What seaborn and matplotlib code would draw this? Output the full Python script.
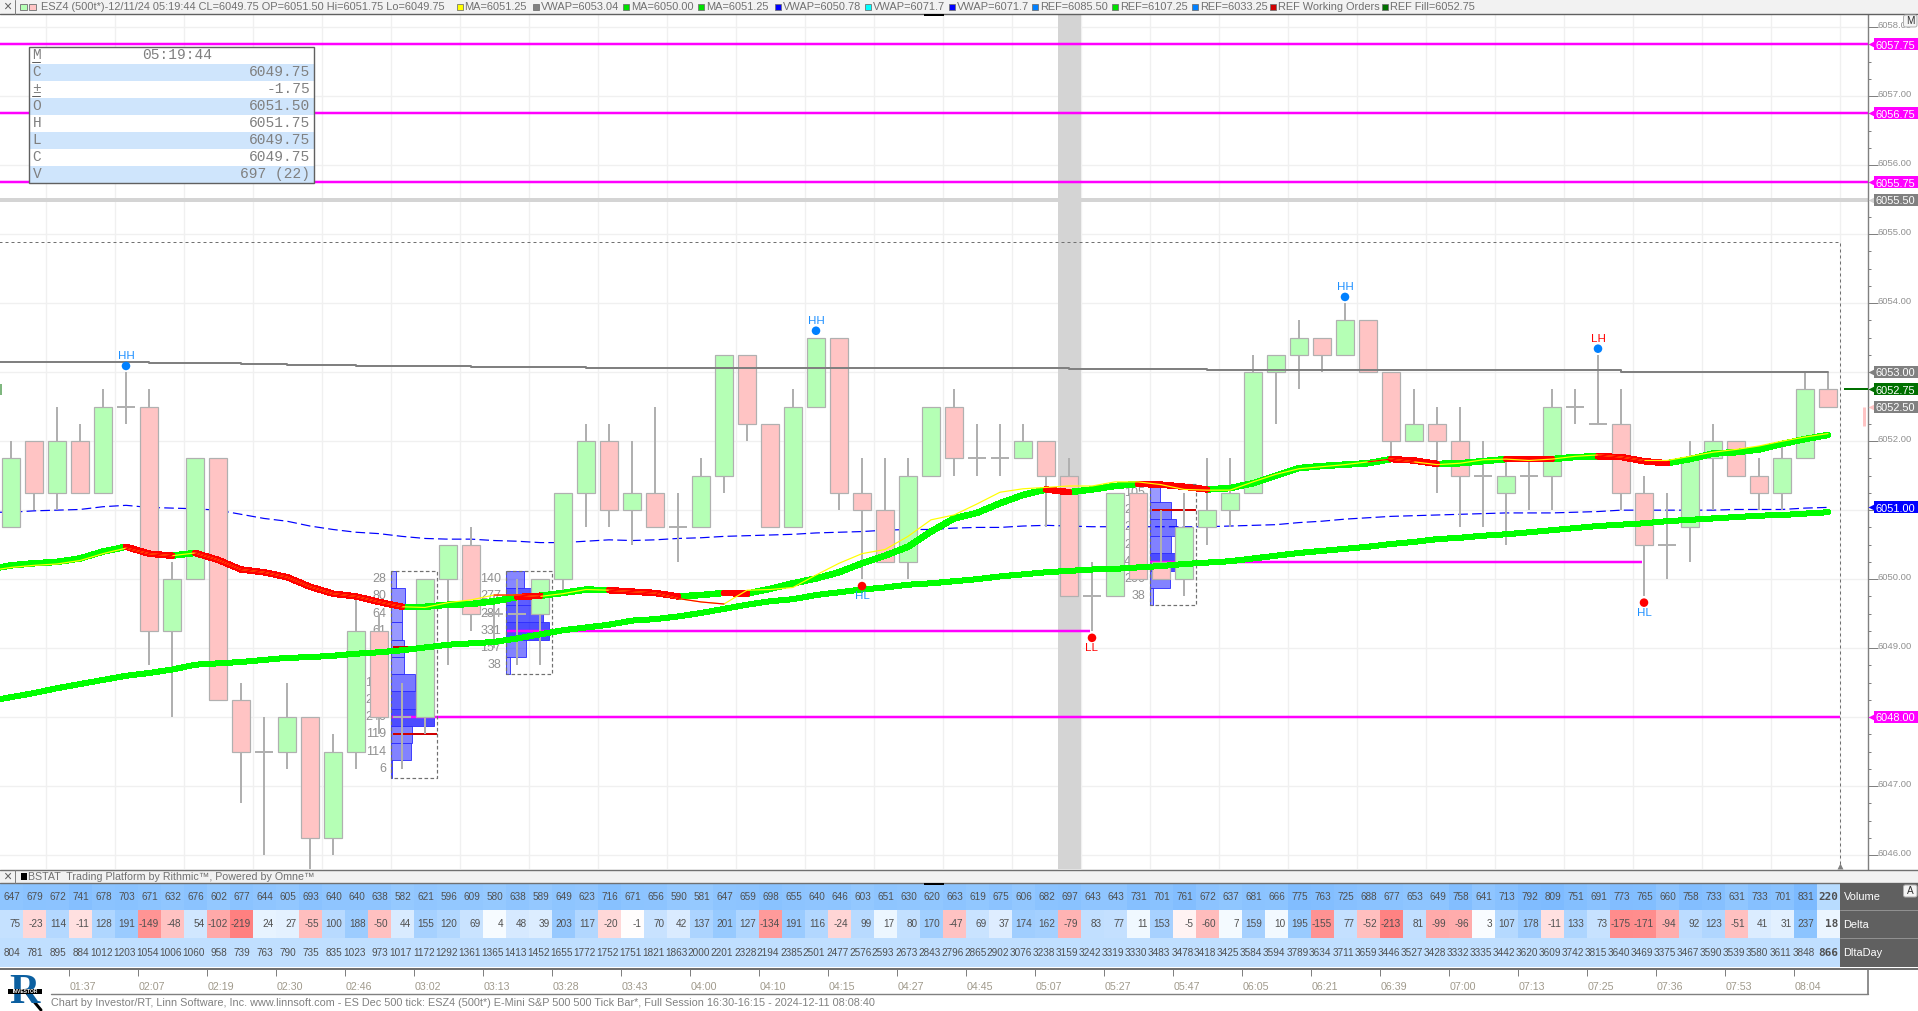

# Recreates the ESZ4 500 tick candle chart with the BSTAT pane under it
import numpy as np
import matplotlib
matplotlib.use("Agg")
import matplotlib.pyplot as plt
from matplotlib.colors import LinearSegmentedColormap
from matplotlib.patches import Rectangle, FancyBboxPatch
from matplotlib.transforms import ScaledTranslation
import seaborn as sns

# ---- data ----
bar_open = [6050.75,6052,6051.25,6052,6051.25,6052.5,6052.5,6049.25,6050,6051.75,
            6048.25,6047.5,6047.5,6048,6046.25,6047.5,6049.25,6048,6048,6050,
            6050.5,6049.5,6049.5,6049.5,6050,6051.25,6052,6051,6051.25,6050.75,
            6050.75,6051.5,6053.25,6052.25,6050.75,6052.5,6053.5,6051.25,6051,6050.25,
            6051.5,6052.5,6051.75,6051.75,6051.75,6052,6051.5,6049.75,6049.75,6051.25,
            6050.25,6050,6050.75,6051,6051.25,6053,6053.25,6053.5,6053.25,6053.75,
            6053,6052,6052.25,6052,6051.5,6051.25,6051.5,6051.5,6052.5,6052.25,
            6052.25,6051.25,6050.5,6050.75,6051.75,6052,6051.5,6051.25,6051.75,6052.75]
bar_high = [6052,6052,6052.5,6052.25,6052.75,6053,6052.75,6050.25,6051.75,6051.75,
            6048.5,6048,6048.5,6048,6047.75,6049.75,6049.5,6048.5,6050,6050.5,
            6050.75,6049.75,6050,6050,6051.25,6052.25,6052.25,6052,6052.5,6051.25,
            6051.75,6053.25,6053.25,6052.25,6052.75,6053.5,6053.5,6051.75,6051.75,6051.75,
            6052.5,6052.75,6052.25,6052.25,6052.25,6052,6051.75,6050.25,6051.25,6051.25,
            6051,6051.25,6051.75,6051.75,6053.25,6053.25,6053.75,6053.5,6054,6053.75,
            6053,6052.75,6052.5,6052.5,6052,6051.75,6051.75,6052.75,6052.75,6053.25,
            6052.75,6051.5,6051.25,6052,6052.25,6052,6051.75,6052,6053,6053]
bar_low = [6050.75,6051,6051,6051.25,6051.25,6052.25,6048.75,6048,6050,6048.25,
           6046.75,6046,6047.25,6045.75,6046,6047.25,6047.75,6047.25,6047.75,6048.75,
           6049.25,6049,6048.75,6048.75,6049.75,6050.75,6050.75,6050.5,6050.75,6050.25,
           6050.75,6051.25,6052,6050.75,6050.75,6052.5,6051,6050,6050.25,6050,
           6051.5,6051.5,6051.5,6051.5,6051.75,6050.75,6049.75,6049.25,6049.75,6050,
           6050,6049.75,6050.5,6050.75,6051.25,6052.25,6052.75,6053,6053.25,6053,
           6051.75,6052,6051.25,6050.75,6050.75,6050.5,6051,6051,6052.25,6052.25,
           6051,6049.75,6050,6050.25,6051,6051.5,6051,6051,6051.75,6052.5]
bar_close = [6051.75,6051.25,6052,6051.25,6052.5,6052.5,6049.25,6050,6051.75,6048.25,
             6047.5,6047.5,6048,6046.25,6047.5,6049.25,6048,6048,6050,6050.5,
             6049.5,6049.5,6049.5,6050,6051.25,6052,6051,6051.25,6050.75,6050.75,
             6051.5,6053.25,6052.25,6050.75,6052.5,6053.5,6051.25,6051,6050.25,6051.5,
             6052.5,6051.75,6051.75,6051.75,6052,6051.5,6049.75,6049.75,6051.25,6050,
             6050,6050.75,6051,6051.25,6053,6053.25,6053.5,6053.25,6053.75,6053,
             6052,6052.25,6052,6051.5,6051.5,6051.5,6051.5,6052.5,6052.5,6052.25,
             6051.25,6050.5,6050.5,6051.75,6052,6051.5,6051.25,6051.75,6052.75,6052.5]

# moving averages start one bar left of the first candle so they run off the edge
ma_fast = [6050.14,6050.2,6050.23,6050.25,6050.3,6050.4,6050.47,6050.37,6050.34,6050.38,6050.28,
           6050.14,6050.1,6050.03,6049.89,6049.79,6049.75,6049.67,6049.6,6049.6,6049.63,
           6049.64,6049.68,6049.74,6049.76,6049.8,6049.85,6049.84,6049.82,6049.8,6049.75,
           6049.77,6049.8,6049.79,6049.86,6049.94,6050.01,6050.1,6050.23,6050.34,6050.47,
           6050.69,6050.88,6050.96,6051.1,6051.22,6051.3,6051.26,6051.3,6051.35,6051.38,
           6051.37,6051.34,6051.3,6051.32,6051.39,6051.5,6051.61,6051.64,6051.66,6051.68,
           6051.74,6051.72,6051.67,6051.68,6051.71,6051.74,6051.74,6051.74,6051.77,6051.78,
           6051.77,6051.71,6051.68,6051.74,6051.82,6051.84,6051.88,6051.96,6052.03,6052.09]
ma_thin = [6050.12,6050.17,6050.2,6050.22,6050.27,6050.37,6050.45,6050.37,6050.34,6050.38,6050.28,
           6050.14,6050.1,6050.03,6049.89,6049.79,6049.75,6049.67,6049.6,6049.59,6049.66,
           6049.7,6049.77,6049.77,6049.75,6049.79,6049.85,6049.84,6049.82,6049.8,6049.72,
           6049.67,6049.64,6049.84,6049.85,6049.88,6050.06,6050.23,6050.37,6050.43,6050.62,
           6050.86,6050.93,6051.09,6051.26,6051.31,6051.33,6051.35,6051.35,6051.41,6051.41,
           6051.37,6051.3,6051.29,6051.29,6051.41,6051.52,6051.6,6051.63,6051.66,6051.7,
           6051.74,6051.7,6051.66,6051.68,6051.73,6051.74,6051.72,6051.74,6051.78,6051.8,
           6051.77,6051.72,6051.72,6051.78,6051.84,6051.88,6051.93,6052,6052.06,6052.11]
ma_slow = [6048.23,6048.29,6048.35,6048.42,6048.48,6048.54,6048.6,6048.64,6048.69,6048.76,6048.78,
           6048.8,6048.83,6048.86,6048.87,6048.89,6048.92,6048.94,6048.97,6049.01,6049.05,
           6049.07,6049.09,6049.14,6049.2,6049.26,6049.3,6049.34,6049.4,6049.42,6049.46,
           6049.51,6049.57,6049.63,6049.68,6049.71,6049.77,6049.81,6049.85,6049.88,6049.92,
           6049.94,6049.97,6050,6050.04,6050.07,6050.1,6050.12,6050.14,6050.15,6050.17,
           6050.19,6050.22,6050.24,6050.26,6050.3,6050.34,6050.38,6050.41,6050.44,6050.47,
           6050.51,6050.54,6050.58,6050.6,6050.63,6050.65,6050.68,6050.71,6050.74,6050.77,
           6050.79,6050.81,6050.84,6050.86,6050.88,6050.9,6050.92,6050.93,6050.95,6050.97]
vwap_blue = [6050.97,6050.97,6050.99,6051,6051.01,6051.05,6051.07,6051.04,6051.03,6051.02,6051,
             6050.94,6050.88,6050.84,6050.77,6050.72,6050.68,6050.66,6050.62,6050.59,6050.58,
             6050.58,6050.56,6050.55,6050.53,6050.53,6050.55,6050.57,6050.56,6050.57,6050.59,
             6050.6,6050.62,6050.63,6050.64,6050.65,6050.67,6050.68,6050.69,6050.71,6050.72,
             6050.72,6050.74,6050.75,6050.75,6050.77,6050.78,6050.77,6050.76,6050.76,6050.76,
             6050.76,6050.76,6050.76,6050.77,6050.78,6050.79,6050.82,6050.84,6050.87,6050.89,
             6050.91,6050.92,6050.93,6050.94,6050.95,6050.96,6050.96,6050.96,6050.97,6050.98,
             6051,6051,6051,6051,6051,6051.01,6051.01,6051.01,6051.03,6051.04]
vwap_grey_bars = [-1,6,10,12,15,20,25,37,46,52,70,79]
vwap_grey = [6053.147,6053.132,6053.12,6053.108,6053.093,6053.078,6053.065,6053.053,6053.039,6053.024,6053.005,6053.005]

ma_red_spans = [(5,7),(8,17),(22,23),(26,29),(31,32),(45,46),(49,52),(60,62),(65,67),(69,72)]
thin_red_spans = [(5,7),(8,17),(21,23),(26,31),(59,61),(69,71)]

# horizontal reference lines: price, first bar, last bar (None = whole width)
ref_prices = [6057.75,6056.75,6055.75,6048.00,6049.25,6050.25]
ref_start = [None,None,None,16.5,21.55,49.5]
ref_end = [None,None,None,79.5,46.9,70.9]

swing_bars = [5,35,58,69,37,47,71]
swing_price = [6053.09,6053.6,6054.09,6053.34,6049.9,6049.15,6049.66]
swing_text = ["HH","HH","HH","LH","HL","LL","HL"]
swing_dot = ["#0080ff","#0080ff","#0080ff","#0080ff","#ff0000","#ff0000","#ff0000"]
swing_label = ["#1e90ff","#1e90ff","#1e90ff","#ff0000","#1e90ff","#ff0000","#1e90ff"]

# volume profiles over two bars
prof1_first = 16.5
prof1_levels = [6050,6049.75,6049.5,6049.25,6049,6048.75,6048.5,6048.25,6048,6047.75,6047.5,6047.25]
prof1_vol = [28,80,64,61,75,75,135,200,240,119,114,6]
prof1_poc = [6049.01,6047.76]
prof2_first = 21.5
prof2_levels = [6050,6049.75,6049.5,6049.25,6049,6048.75]
prof2_vol = [140,277,284,331,157,38]
prof2_poc = []
prof3_first = 49.5
prof3_levels = [6051.25,6051,6050.75,6050.5,6050.25,6050,6049.75]
prof3_vol = [105,215,265,210,430,200,38]
prof3_poc = [6051.0]

stat_volume = [647,679,672,741,678,703,671,632,676,602,677,644,605,693,640,640,638,582,621,596,
               609,580,638,589,649,623,716,671,656,590,581,647,659,698,655,640,646,603,651,630,
               620,663,619,675,606,682,697,643,643,731,701,761,672,637,681,666,775,763,725,688,
               677,653,649,758,641,713,792,809,751,691,773,765,660,758,733,631,733,701,831,220]
stat_delta = [75,-23,114,-11,128,191,-149,-48,54,-102,-219,24,27,-55,100,188,-50,44,155,120,
              69,4,48,39,203,117,-20,-1,70,42,137,201,127,-134,191,116,-24,99,17,80,
              170,-47,69,37,174,162,-79,83,77,11,153,-5,-60,7,159,10,195,-155,77,-52,
              -213,81,-99,-96,3,107,178,-11,133,73,-175,-171,-94,92,123,-51,41,31,237,18]
stat_day = [804,781,895,884,1012,1203,1054,1006,1060,958,739,763,790,735,835,1023,973,1017,1172,1292,
            1361,1365,1413,1452,1655,1772,1752,1751,1821,1863,2000,2201,2328,2194,2385,2501,2477,2576,2593,2673,
            2843,2796,2865,2902,3076,3238,3159,3242,3319,3330,3483,3478,3418,3425,3584,3594,3789,3634,3711,3659,
            3446,3527,3428,3332,3335,3442,3620,3609,3742,3815,3640,3469,3375,3467,3590,3539,3580,3611,3848,866]
stat_names = ["Volume","Delta","DltaDay"]

time_labels = ["01:37","02:07","02:19","02:30","02:46","03:02","03:13","03:28","03:43","04:00","04:10","04:15","04:27",
               "04:45","05:07","05:27","05:47","06:05","06:21","06:39","07:00","07:13","07:25","07:36","07:53","08:04"]

info_keys = ["M","C","±","O","H","L","C","V"]
info_vals = ["05:19:44","6049.75","-1.75","6051.50","6051.75","6049.75","6049.75","697 (22)"]

legend_text = ["ESZ4 (500t*)-12/11/24 05:19:44 CL=6049.75 OP=6051.50 Hi=6051.75 Lo=6049.75","MA=6051.25","VWAP=6053.04",
               "MA=6050.00","MA=6051.25","VWAP=6050.78","VWAP=6071.7","VWAP=6071.7","REF=6085.50","REF=6107.25","REF=6033.25",
               "REF Working Orders","REF Fill=6052.75"]
legend_swatch = [None,"#ffff00","#808080","#00e000","#00e000","#0000ff","#00ffff","#0000ff","#0080ff","#00e000","#0080ff","#d00000","#007000"]
legend_x = [41,464.5,541,631,706,783,872.6,957,1040,1120,1200,1278,1390]

flag_prices = [6057.75,6056.75,6055.75,6055.50,6053.00,6052.75,6052.50,6051.04,6048.00]
flag_text = ["6057.75","6056.75","6055.75","6055.50","6053.00","6052.75","6052.50","6051.00","6048.00"]
flag_color = ["#ff00ff","#ff00ff","#ff00ff","#808080","#808080","#007000","#808080","#0000ff","#ff00ff"]
flag_tip = ["#ff00ff","#ff00ff","#ff00ff","#d0d0d0","#808080","#007000","#ffc4c4","#0000ff","#ff00ff"]

# ---- layout ----
W, H = 1918, 1011
GREEN, PINK, WICK = "#b5ffb5", "#ffc4c4", "#b0b0b0"
PX = 72 / 100  # points in one pixel at dpi 100

sns.set_theme(style="white")
plt.rcParams["font.family"] = ["Liberation Sans", "DejaVu Sans"]

fig = plt.figure(figsize=(W / 100, H / 100), dpi=100, facecolor="white")


def px_axes(x0, y0, x1, y1, **kw):
    return fig.add_axes([x0 / W, 1 - y1 / H, (x1 - x0) / W, (y1 - y0) / H], **kw)


# bar k has its centre at 11 + 23 * k pixels
x_lim = ((0 - 11) / 23, (1868 - 11) / 23)

ax = px_axes(0, 14, 1868, 869)
ax.set_xlim(*x_lim)
ax.set_ylim(6045.80, 6058.19)
ax.set_axisbelow(True)

ax.set_xticks(np.arange(1.54, 80, 3))
ax.tick_params(axis="x", length=0, labelbottom=False)
ax.yaxis.tick_right()
ax.set_yticks(np.arange(6046, 6059, 1.0))
ax.set_yticks(np.arange(6046, 6058.2, 0.25), minor=True)
ax.tick_params(axis="y", which="major", length=10 * PX, width=PX, color="#808080", pad=0,
               labelsize=9.5 * PX, labelcolor="#909090")
ax.tick_params(axis="y", which="minor", length=3 * PX, width=PX, color="#808080", right=True, left=False)
ax.set_yticklabels([f"{v:.2f}" for v in np.arange(6046, 6059, 1.0)])
label_down = ScaledTranslation(0, -2.5 / 100, fig.dpi_scale_trans)
for lab in ax.get_yticklabels():
    lab.set_va("bottom")
    lab.set_transform(lab.get_transform() + label_down)
ax.grid(True, which="major", color="#f0f0f0", linewidth=1.4 * PX)
for side in ["top", "left", "bottom"]:
    ax.spines[side].set_visible(False)
ax.spines["right"].set_color("#808080")
ax.spines["right"].set_linewidth(1.4 * PX)

# grey separators
ax.axvspan(45.5, 46.5, color="#d4d4d4", lw=0, zorder=0.6)
ax.axhline(6055.5, color="#d4d4d4", lw=4 * PX, zorder=0.6)

# session box
ax.plot([-2, 79.5, 79.5], [6054.88, 6054.88, 6045], color="#707070", lw=PX,
        dashes=(3, 3), zorder=1.9)

# reference lines
for p, a, b in zip(ref_prices, ref_start, ref_end):
    a = x_lim[0] if a is None else a
    b = x_lim[1] if b is None else b
    ax.plot([a, b], [p, p], color="#ff00ff", lw=2.5 * PX, solid_capstyle="butt", zorder=1.5)


def draw_profile(first, levels, vol, poc):
    vmax = max(vol)
    for lvl, v in zip(levels, vol):
        ax.barh(lvl, v / vmax * 43.3 / 23, left=first, height=0.25,
                color=(0, 0, 1, 0.3 + 0.4 * v / vmax), edgecolor=(0.2, 0.2, 1, 0.9),
                linewidth=PX, zorder=1)
        ax.text(first - 4.5 / 23, lvl, str(v), ha="right", va="center", color="#909090",
                fontsize=12.5 * PX, zorder=1.4)
    ax.plot([first, first, first + 2, first + 2, first],
            [levels[0] + 0.125, levels[-1] - 0.125, levels[-1] - 0.125, levels[0] + 0.125, levels[0] + 0.125],
            color="#707070", lw=1.2 * PX, dashes=(3, 2), zorder=1.9)
    for p in poc:
        ax.plot([first + 0.1, first + 2], [p, p], color="#d00000", lw=2 * PX, zorder=1.6,
                solid_capstyle="butt")


draw_profile(prof1_first, prof1_levels, prof1_vol, prof1_poc)
draw_profile(prof2_first, prof2_levels, prof2_vol, prof2_poc)
draw_profile(prof3_first, prof3_levels, prof3_vol, prof3_poc)

# blue vwap sits under the candles
line_x = np.arange(-1, 80)
sns.lineplot(x=line_x, y=vwap_blue, ax=ax, color="#0000ff", linewidth=1.2 * PX, errorbar=None, zorder=1.8)
ax.lines[-1].set_linestyle((0, (8, 3.5)))

# candles
bars = np.arange(len(bar_open))
o, h, l, c = map(np.array, (bar_open, bar_high, bar_low, bar_close))
ax.vlines(bars, l, h, color=WICK, linewidth=2 * PX, zorder=2)
body = c != o
ax.bar(bars[body], np.abs(c - o)[body], bottom=np.minimum(o, c)[body], width=0.74,
       color=[GREEN if v else PINK for v in (c > o)[body]], edgecolor=WICK, linewidth=1.2 * PX, zorder=2.1)
ax.hlines(o[~body], bars[~body] - 0.39, bars[~body] + 0.39, color=WICK, linewidth=2 * PX, zorder=2.1)

# averages above the candles
sns.lineplot(x=vwap_grey_bars, y=vwap_grey, ax=ax, color="#808080", linewidth=2 * PX, errorbar=None,
             drawstyle="steps-post", zorder=3)
sns.lineplot(x=line_x, y=ma_slow, ax=ax, color="#00ff00", linewidth=5 * PX, errorbar=None, zorder=4,
             antialiased=False)
sns.lineplot(x=line_x, y=ma_fast, ax=ax, color="#00ff00", linewidth=5.5 * PX, errorbar=None, zorder=4.1,
             antialiased=False)
for a, b in ma_red_spans:
    sns.lineplot(x=line_x[a + 1:b + 2], y=ma_fast[a + 1:b + 2], ax=ax, color="#ff0000", linewidth=5.5 * PX,
                 errorbar=None, zorder=4.2, antialiased=False)
sns.lineplot(x=line_x, y=ma_thin, ax=ax, color="#ffff00", linewidth=1.2 * PX, errorbar=None, zorder=4.3)
for a, b in thin_red_spans:
    sns.lineplot(x=line_x[a + 1:b + 2], y=ma_thin[a + 1:b + 2], ax=ax, color="#ff0000", linewidth=1.2 * PX,
                 errorbar=None, zorder=4.4)

# swing markers
sns.scatterplot(x=swing_bars, y=swing_price, ax=ax, hue=swing_dot, palette={v: v for v in swing_dot},
                s=38, linewidth=0, legend=False, zorder=6)
for k, p, t, cl in zip(swing_bars, swing_price, swing_text, swing_label):
    off = 0.14 if t in ("HH", "LH") else -0.145
    ax.text(k, p + off, t, color=cl, ha="center", va="center", fontsize=11.5 * PX, zorder=6)

# fill marker and arrow near the right edge
ax.plot([79.7, x_lim[1]], [6052.75, 6052.75], color="#007000", lw=2 * PX, zorder=5, solid_capstyle="butt")
ax.plot([80.55, 80.55], [6052.5, 6052.22], color="#ffc4c4", lw=3 * PX, zorder=5, solid_capstyle="butt")
ax.plot([x_lim[0], x_lim[0] + 0.04], [6052.75, 6052.75], color="#007000", lw=11 * PX, zorder=5,
        solid_capstyle="butt")

# price flags on the axis
ytr = ax.get_yaxis_transform()
for p, t, col, tip in zip(flag_prices, flag_text, flag_color, flag_tip):
    ax.plot([1 + 4 / 1868], [p], marker="<", ms=8.5 * PX, color=tip, mec="none", transform=ytr,
            clip_on=False, zorder=8)
    ax.add_patch(Rectangle((1 + 6 / 1868, p - 0.087), 45 / 1868, 0.174, transform=ytr, facecolor=col,
                           edgecolor="none", clip_on=False, zorder=8.5))
    ax.annotate(t, xy=(1, p), xycoords=ytr, xytext=(8 * PX, -1.2 * PX), textcoords="offset points",
                color="white", ha="left", va="center", fontsize=11 * PX, annotation_clip=False, zorder=9)

# ---- stat pane ----
vol_cmap = LinearSegmentedColormap.from_list(
    "vol", [(0, "#b8dcff"), ((580 - 220) / 611, "#95c9ff"), (1, "#7cbaff")])
dn = [-219, -149, -50, -11, 0, 4, 50, 100, 237]
dc = ["#ff8080", "#ff9494", "#ffc0c0", "#ffe0e0", "#ffffff", "#f6fbff", "#d4e8ff", "#b8daff", "#8cc4ff"]
delta_cmap = LinearSegmentedColormap.from_list("delta", [((v + 219) / 456, col) for v, col in zip(dn, dc)])
day_cmap = LinearSegmentedColormap.from_list("day", ["#c0dfff", "#c0dfff"])

rows = [(stat_volume, 883, 910, vol_cmap, 220, 831), (stat_delta, 910, 938, delta_cmap, -219, 237),
        (stat_day, 938, 967, day_cmap, 0, 4000)]
for vals, y0, y1, cmap, vmin, vmax in rows:
    a = px_axes(-0.5, y0, 1839.5, y1)
    sns.heatmap(np.array([vals]), ax=a, cmap=cmap, vmin=vmin, vmax=vmax, cbar=False, annot=True, fmt="d",
                xticklabels=False, yticklabels=False, annot_kws={"fontsize": 10 * PX, "color": "#505050"})
    for t in a.texts:
        t.set_ha("right")
        t.set_x(t.get_position()[0] + 0.41)
    a.texts[-1].set_fontfamily("DejaVu Sans Mono")
    a.texts[-1].set_fontweight("bold")
    a.texts[-1].set_fontsize(11 * PX)
    a.texts[-1].set_x(79.95)

# ---- time axis ----
ax_t = px_axes(0, 969, 1868, 994)
ax_t.set_xlim(*x_lim)
ax_t.set_ylim(25, 0)
ax_t.set_yticks([])
time_ticks = np.arange(2.54, 2.54 + 3 * len(time_labels), 3)
ax_t.set_xticks(time_ticks)
ax_t.set_xticklabels([])
ax_t.xaxis.tick_top()
ax_t.tick_params(axis="x", direction="in", length=7 * PX, width=PX, color="#808080", pad=0)
for tk, lab in zip(time_ticks, time_labels):
    ax_t.text(tk, 18.5, lab, color="#a09a8c", ha="left", va="center", fontsize=10.6 * PX)
for side in ["top", "left", "bottom"]:
    ax_t.spines[side].set_visible(False)
ax_t.spines["right"].set_color("#808080")

# ---- window chrome, drawn in pixels ----
ch = fig.add_axes([0, 0, 1, 1], facecolor="none", zorder=20)
ch.set_xlim(0, W)
ch.set_ylim(H, 0)
ch.axis("off")


def box(x0, y0, x1, y1, fc, ec="none", lw=0, z=1):
    ch.add_patch(Rectangle((x0, y0), x1 - x0, y1 - y0, facecolor=fc, edgecolor=ec, linewidth=lw * PX, zorder=z))


# header
box(0, 0, W, 13.5, "#f2f2f2")
ch.plot([0, W], [13.5, 13.5], color="#606060", lw=1.4 * PX)
ch.plot([14.5, 14.5], [0, 13.5], color="#808080", lw=PX)
ch.text(7, 6.8, "×", color="#606060", ha="center", va="center", fontsize=14 * PX)
box(20, 3.5, 26.5, 10, GREEN, "#808080", 1)
box(29, 3.5, 35.5, 10, PINK, "#808080", 1)
for t, sw, x in zip(legend_text, legend_swatch, legend_x):
    if sw:
        box(x - 8, 3.5, x - 2, 10, sw, "#707070", 0.8)
    ch.text(x, 7, t, color="#707070", ha="left", va="center", fontsize=11 * PX)
box(924, 13.5, 944, 15.5, "black", z=2)

# M button
ch.add_patch(FancyBboxPatch((1904, 15.5), 12.5, 11, boxstyle="round,pad=0.5,rounding_size=2", fc="#f4f4f4",
                            ec="#b0b0b0", lw=PX, zorder=3))
ch.text(1910.2, 21.2, "M", color="#303030", ha="center", va="center", fontsize=10 * PX, zorder=4)

# info box
bx0, bx1, by0, row_h = 28.6, 314, 46.5, 17.05
for i, (key, val) in enumerate(zip(info_keys, info_vals)):
    ty = by0 + row_h * i
    box(bx0, ty, bx1, ty + row_h, "#cfe5fc" if i % 2 else "white", z=3)
    ch.text(32.5, ty + row_h / 2, key, color="#808080", family="Liberation Mono", ha="left", va="center",
            fontsize=14.5 * PX, zorder=4)
    if i == 0:
        ch.text(177, ty + row_h / 2, val, color="#808080", family="Liberation Mono", ha="center", va="center",
                fontsize=14.5 * PX, zorder=4)
    else:
        ch.text(310, ty + row_h / 2, val, color="#808080", family="Liberation Mono", ha="right", va="center",
                fontsize=14.5 * PX, zorder=4)
for i in (0, 2):
    ch.plot([32, 40], [by0 + row_h * (i + 1) - 1.2] * 2, color="#606060", lw=PX, zorder=4)
ch.add_patch(Rectangle((bx0, by0), bx1 - bx0, row_h * 8, fill=False, edgecolor="#606060", linewidth=1.4 * PX, zorder=5))

# pane title strip
box(0, 869.5, W, 883, "#f2f2f2")
ch.plot([0, W], [869.5, 869.5], color="#707070", lw=1.4 * PX)
ch.plot([0, W], [883, 883], color="#707070", lw=1.4 * PX)
ch.plot([14.5, 14.5], [869.5, 883], color="#808080", lw=PX)
ch.text(7, 876.5, "×", color="#606060", ha="center", va="center", fontsize=14 * PX)
box(21, 873, 27, 880, "black")
ch.text(28.5, 877, "BSTAT  Trading Platform by Rithmic™, Powered by Omne™", color="#707070", ha="left",
        va="center", fontsize=10.6 * PX)
box(924, 883, 944, 885, "black", z=2)
ch.plot([1839.5], [866], marker="^", ms=6 * PX, color="#808080", mec="none")

# stat row names
box(1839.5, 883, W, 967, "#606060", z=2)
for y in (910, 938):
    ch.plot([1839.5, W], [y, y], color="#909090", lw=PX, zorder=3)
for name, y in zip(stat_names, (897, 925, 952.5)):
    ch.text(1843.5, y, name, color="white", ha="left", va="center", fontsize=11 * PX, zorder=4)
ch.add_patch(FancyBboxPatch((1904, 885.5), 12.5, 11, boxstyle="round,pad=0.5,rounding_size=2", fc="#f4f4f4",
                            ec="#b0b0b0", lw=PX, zorder=3))
ch.text(1910.2, 891, "A", color="#303030", ha="center", va="center", fontsize=10 * PX, zorder=4)
ch.plot([0, W], [968.5, 968.5], color="#707070", lw=2 * PX)

# footer
ch.plot([51, 1868], [994, 994], color="#808080", lw=1.4 * PX)
ch.text(51, 1003.5, "Chart by Investor/RT, Linn Software, Inc. www.linnsoft.com - ES Dec 500 tick: ESZ4 (500t*) "
        "E-Mini S&P 500 500 Tick Bar*, Full Session 16:30-16:15 - 2024-12-11 08:08:40",
        color="#808080", ha="left", va="center", fontsize=10.9 * PX)

# logo
ch.text(9, 1003, "R", color="#0b5fa0", family="Liberation Serif", fontweight="bold", ha="left", va="baseline",
        fontsize=42 * PX)
ch.plot([26, 41], [992, 1010], color="black", lw=3 * PX)
box(8, 989, 42, 994, "black", z=3)
ch.text(25, 991.6, "INVESTOR", color="white", ha="center", va="center", fontsize=5 * PX, fontweight="bold", zorder=4)

fig.savefig("out.png", dpi=100, facecolor="white")
